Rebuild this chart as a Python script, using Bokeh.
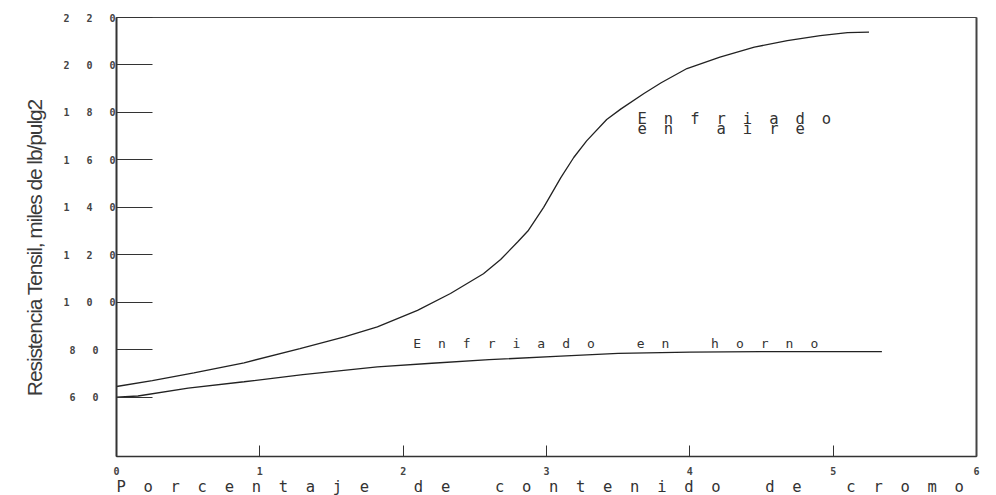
from math import pi

from bokeh.embed import file_html
from bokeh.layouts import column, row
from bokeh.models import FixedTicker, InlineStyleSheet, Label, LinearAxis, Range1d
from bokeh.plotting import figure
from bokeh.resources import INLINE

# Tensile strength (thousands of lb/in^2) against chromium content (%)
cromo_aire = [0.0, 0.25, 0.54, 0.89, 1.28, 1.59, 1.82, 2.10, 2.33, 2.56, 2.68,
              2.80, 2.87, 2.98, 3.10, 3.19, 3.28, 3.42, 3.52, 3.68, 3.80, 3.98,
              4.21, 4.45, 4.68, 4.91, 5.10, 5.25]
resist_aire = [64.5, 67.0, 70.2, 74.5, 80.5, 85.4, 89.6, 96.6, 103.7, 112.0, 118.0,
               125.5, 130.0, 140.0, 152.5, 161.0, 168.0, 177.0, 181.5, 188.0, 192.5,
               198.5, 203.3, 207.5, 210.3, 212.4, 213.6, 213.8]

cromo_horno = [0.0, 0.15, 0.5, 0.89, 1.3, 1.82, 2.2, 2.6, 3.1, 3.5, 4.0, 4.5, 5.0, 5.34]
resist_horno = [60.0, 60.5, 63.8, 66.5, 69.5, 72.8, 74.3, 75.8, 77.3, 78.5, 79.0,
                79.2, 79.2, 79.2]

x_ticks = [0, 1, 2, 3, 4, 5, 6]
y_ticks = [60, 80, 100, 120, 140, 160, 180, 200, 220]

titulo_x = "Porcentaje de contenido de cromo"
titulo_y = "Resistencia Tensil, miles de lb/pulg2"
etiqueta_horno = "Enfriado en horno"
etiqueta_aire = ["Enfriado", "en aire"]

MONO = "DejaVu Sans Mono"
INK = "#222222"
TEXT = "#333333"

x_range = Range1d(0, 6)
y_range = Range1d(35, 220)

# main plot: wide, evenly spaced plotter-style lettering
p = figure(width=940, height=477, x_range=x_range, y_range=y_range,
           output_backend="svg", toolbar_location=None,
           min_border_left=60, min_border_right=20, min_border_top=17,
           min_border_bottom=20, background_fill_color="white",
           border_fill_color="white")
p.stylesheets = [InlineStyleSheet(css=":host { letter-spacing: 17px; }")]
p.grid.visible = False
p.outline_line_color = "#444444"
p.outline_line_width = 1

p.line(cromo_aire, resist_aire, line_color=INK, line_width=1.3)
p.line(cromo_horno, resist_horno, line_color=INK, line_width=1.3)

xa = p.xaxis[0]
xa.ticker = FixedTicker(ticks=x_ticks)
xa.major_tick_in = 11
xa.major_tick_out = 0
xa.minor_tick_in = 0
xa.minor_tick_out = 0
xa.major_tick_line_color = "#333333"
xa.axis_line_color = "#333333"
xa.axis_line_width = 1.5
xa.major_label_text_font = MONO
xa.major_label_text_font_size = "10px"
xa.major_label_text_font_style = "bold"
xa.major_label_text_color = "#444444"
xa.major_label_standoff = 10

ya = p.yaxis[0]
ya.ticker = FixedTicker(ticks=y_ticks)
ya.major_tick_in = 36
ya.major_tick_out = 0
ya.minor_tick_in = 0
ya.minor_tick_out = 0
ya.major_tick_line_color = "#333333"
ya.axis_line_color = "#333333"
ya.axis_line_width = 2
ya.major_label_text_font = MONO
ya.major_label_text_font_size = "10px"
ya.major_label_text_font_style = "bold"
ya.major_label_text_color = "#444444"
ya.major_label_standoff = 35

# heavier right edge of the frame
right = LinearAxis(ticker=FixedTicker(ticks=[]), axis_line_color="#444444",
                   axis_line_width=2, major_label_text_font_size="0px")
p.add_layout(right, "right")

p.add_layout(Label(x=2.07, y=82.8, text=etiqueta_horno, text_font=MONO,
                   text_font_size="13px", text_color=TEXT,
                   text_align="left", text_baseline="alphabetic"))
p.add_layout(Label(x=3.635, y=177.3, text=etiqueta_aire[0], text_font=MONO,
                   text_font_size="15.5px", text_color=TEXT,
                   text_align="left", text_baseline="alphabetic"))
p.add_layout(Label(x=3.635, y=173.0, text=etiqueta_aire[1], text_font=MONO,
                   text_font_size="15.5px", text_color=TEXT,
                   text_align="left", text_baseline="alphabetic"))

# bottom strip with the x-axis title, sharing the horizontal scale
s = figure(width=940, height=18, x_range=x_range, y_range=Range1d(0, 18),
           x_axis_type=None, y_axis_type=None, output_backend="svg",
           toolbar_location=None, min_border_left=60, min_border_right=20,
           min_border_top=0, min_border_bottom=0, outline_line_color=None,
           background_fill_color="white", border_fill_color="white")
s.stylesheets = [InlineStyleSheet(css=":host { letter-spacing: 17.7px; }")]
s.grid.visible = False
s.add_layout(Label(x=0, y=9, text=titulo_x, text_font=MONO,
                   text_font_size="15.5px", text_color=TEXT,
                   text_align="left", text_baseline="alphabetic"))

# narrow strip carrying the condensed vertical title
t = figure(width=56, height=495, x_range=Range1d(0, 56), y_range=y_range,
           x_axis_type=None, y_axis_type=None, output_backend="svg",
           toolbar_location=None, min_border_left=0, min_border_right=0,
           min_border_top=17, min_border_bottom=38, outline_line_color=None,
           background_fill_color="white", border_fill_color="white")
t.stylesheets = [InlineStyleSheet(css=":host { letter-spacing: -1.1px; }")]
t.grid.visible = False
t.add_layout(Label(x=34, y=60.8, text=titulo_y, angle=pi / 2,
                   text_font="Liberation Sans", text_font_size="21px",
                   text_color="#3a3a3a", text_align="left",
                   text_baseline="alphabetic"))

layout = row(t, column(p, s, spacing=0), spacing=0)

open("out.html", "w").write(file_html(layout, INLINE))
